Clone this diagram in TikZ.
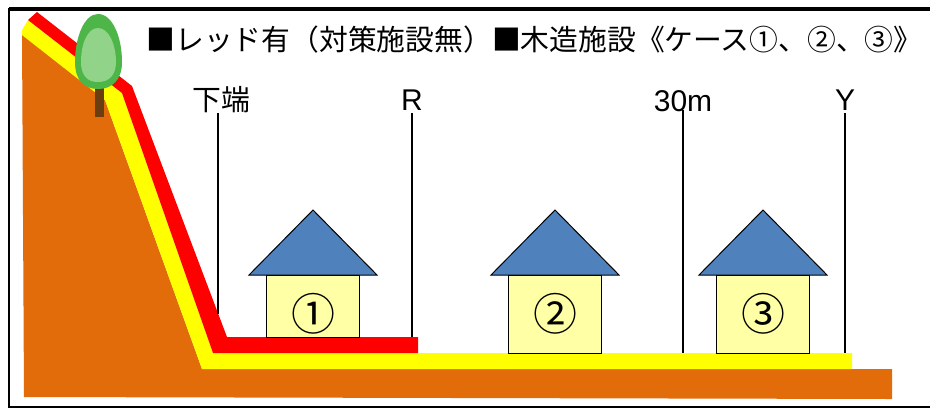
\documentclass[tikz,border=0pt]{standalone}
\usepackage{fontspec}
\setmainfont{Liberation Sans}
\newfontfamily\jpfont{Noto Sans CJK JP}
\usetikzlibrary{positioning}
\definecolor{soil}{HTML}{E36C0A}
\definecolor{redzone}{HTML}{FF0000}
\definecolor{yellowzone}{HTML}{FFFF00}
\definecolor{roofblue}{HTML}{4F81BD}
\definecolor{wallcream}{HTML}{FFFFA6}
\definecolor{leafdark}{HTML}{4EB548}
\definecolor{leaflight}{HTML}{92D38A}
\definecolor{trunkbrown}{HTML}{6B3E0F}
\tikzset{
  roof/.style={fill=roofblue, draw=black, line width=0.5pt},
  wall/.style={fill=wallcream, draw=black, line width=0.5pt},
  marker/.style={draw=black, line width=0.6pt},
  tag/.style={font=\fontsize{15}{17}\selectfont, inner sep=0pt},
  legend/.style={font=\jpfont\fontsize{14.4}{16}\selectfont, inner sep=0pt},
  casenum/.style={font=\jpfont\fontsize{22}{24}\selectfont, inner sep=0pt},
}

\begin{document}
\begin{tikzpicture}[x=0.5pt, y=-0.5pt]

  % -- canvas and frame --------------------------------------------------------
  \clip (0,0) rectangle (930,409);
  \fill[white] (0,0) rectangle (930,409);
  \draw[line width=1pt] (940,9) -- (9,9) -- (9,407) -- (940,407);
  \draw[line width=1.6pt] (9,9) -- (940,9);

  % -- marker positions --------------------------------------------------------
  \def\xLower{218}    % 下端
  \def\xR{412}        % R
  \def\xThirty{683}   % 30m
  \def\xY{845}        % Y

  % -- slope and ground --------------------------------------------------------
  \fill[soil] (22,34) -- (105,100) -- (202,369) -- (892,369)
              -- (892,399) -- (24,397) -- cycle;
  \fill[yellowzone] (22,30) -- (28,20) -- (122,93) -- (213,353)
              -- (852,353) -- (852,369) -- (202,369) -- (105,100) -- (22,35) -- cycle;
  \fill[redzone] (28,20) -- (37,12) -- (132,86) -- (227,337)
              -- (418,337) -- (418,353) -- (213,353) -- (122,93) -- cycle;

  % -- tree on the slope -------------------------------------------------------
  \fill[trunkbrown] (95,86) rectangle (104,117);
  \fill[leafdark] (98,14) .. controls (113,14) and (122,38) .. (122,62)
              .. controls (122,80) and (112,89) .. (98,89)
              .. controls (84,89) and (75,80) .. (75,62)
              .. controls (75,38) and (84,14) .. (98,14);
  \fill[leaflight] (98,28) .. controls (109,28) and (116,45) .. (116,62)
              .. controls (116,75) and (109,82) .. (98,82)
              .. controls (87,82) and (81,75) .. (81,62)
              .. controls (81,45) and (87,28) .. (98,28);

  % -- legend ------------------------------------------------------------------
  \node[legend, anchor=west] (title) at (146,40)
    {■レッド有（対策施設無）■木造施設《ケース①、②、③》};

  % -- distance markers --------------------------------------------------------
  \node[tag, font=\jpfont\fontsize{14.4}{16}\selectfont] (lower) at (221,100) {下端};
  \node[tag] (rline) at (\xR,100) {R};
  \node[tag] (thirty) at (\xThirty,101) {30m};
  \node[tag] (yline) at (\xY,100) {Y};

  \draw[marker] (\xLower,113) -- (\xLower,314);
  \draw[marker] (\xR,113) -- (\xR,337);
  \draw[marker] (\xThirty,110) -- (\xThirty,353);
  \draw[marker] (\xY,113) -- (\xY,353);

  % -- houses, cases 1 to 3 ----------------------------------------------------
  \foreach \i/\cx/\foot/\num in {1/313/337/①, 2/555/353/②, 3/763/353/③} {
    \draw[wall] (\cx-46.5,275) rectangle (\cx+46.5,\foot);
    \draw[roof] (\cx-64,275) -- (\cx,210) -- (\cx+64,275) -- cycle;
    \node[casenum] (case\i) at (\cx,314) {\num};
  }

\end{tikzpicture}
\end{document}
